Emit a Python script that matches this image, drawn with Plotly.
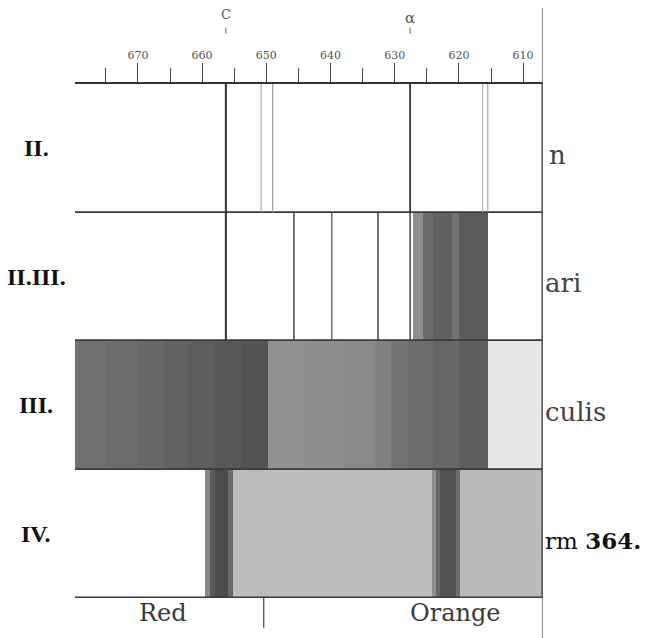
import plotly.graph_objects as go

# ---- data ----
row_labels = ["II.", "II.III.", "III.", "IV."]
right_labels = ["n", "ari", "culis", "rm <b>364.</b>"]
tick_vals = [670, 660, 650, 640, 630, 620, 610]
minor_vals = [675, 665, 655, 645, 635, 625, 615]
x_min, x_max = 679.8, 606.9

# absorption segments: row index, from (nm), to (nm), grey colour
seg_row = [1, 1, 1, 1, 1,
           2, 2, 2, 2, 2, 2, 2, 2, 2, 2, 2, 2, 2, 2, 2, 2,
           3, 3, 3, 3, 3, 3, 3, 3, 3, 3]
seg_from = [627.2, 625.6, 624.0, 621.0, 620.0,
            679.8, 675.0, 670.0, 666.0, 662.0, 658.0, 654.0, 649.8, 644.0, 638.0, 633.0, 630.5, 628.0, 624.0, 620.0, 615.5,
            659.6, 658.8, 658.0, 655.9, 655.2, 624.2, 623.6, 623.0, 620.4, 619.8]
seg_to = [625.6, 624.0, 621.0, 620.0, 615.5,
          675.0, 670.0, 666.0, 662.0, 658.0, 654.0, 649.8, 644.0, 638.0, 633.0, 630.5, 628.0, 624.0, 620.0, 615.5, 606.9,
          658.8, 658.0, 655.9, 655.2, 624.2, 623.6, 623.0, 620.4, 619.8, 606.9]
seg_col = ["#8e8e8e", "#6a6a6a", "#606060", "#727272", "#5a5a5a",
           "#707070", "#6c6c6c", "#686868", "#626262", "#5e5e5e", "#585858", "#535353",
           "#919191", "#8d8d8d", "#898989", "#818181", "#747474", "#6d6d6d", "#676767", "#5e5e5e", "#e6e6e6",
           "#888888", "#5a5a5a", "#4c4c4c", "#6a6a6a", "#bdbdbd", "#8e8e8e", "#666666", "#525252", "#6e6e6e", "#bababa"]

# spectral lines: row index, wavelength, width, colour
line_row = [0, 0, 0, 0, 0, 0, 1, 1, 1, 1, 1]
line_wl = [656.3, 650.8, 649.0, 627.6, 616.3, 615.5, 656.3, 645.7, 639.8, 632.6, 627.6]
line_w = [2, 1, 1, 1.8, 1, 1, 2, 1.5, 1.3, 1.5, 1.5]
line_col = ["#333", "#999", "#888", "#333", "#aaa", "#999", "#333", "#444", "#555", "#444", "#444"]

fraunhofer_names = ["C", "α"]
fraunhofer_wl = [656.3, 627.6]

colour_names = ["Red", "Orange"]
colour_pos = [666.1, 620.6]
colour_divider = 650.4

fig = go.Figure()

# row backgrounds (white)
fig.add_trace(go.Bar(orientation="h", y=list(range(len(row_labels))),
                     base=[x_max] * len(row_labels),
                     x=[x_min - x_max] * len(row_labels),
                     width=1, marker=dict(color="white", line=dict(width=0)),
                     hoverinfo="skip", showlegend=False))
# absorption segments
fig.add_trace(go.Bar(orientation="h", y=seg_row, base=seg_to,
                     x=[f - t for f, t in zip(seg_from, seg_to)],
                     width=1, marker=dict(color=seg_col, line=dict(width=0)),
                     hoverinfo="skip", showlegend=False))
# spectral lines
for r, wl, w, c in zip(line_row, line_wl, line_w, line_col):
    fig.add_trace(go.Scatter(x=[wl, wl], y=[r - 0.5, r + 0.5], mode="lines",
                             line=dict(color=c, width=w), hoverinfo="skip", showlegend=False))
# row outlines
fig.add_trace(go.Bar(orientation="h", y=list(range(len(row_labels))),
                     base=[x_max] * len(row_labels),
                     x=[x_min - x_max] * len(row_labels),
                     width=1, marker=dict(color="rgba(0,0,0,0)", line=dict(width=1.5, color="#3a3a3a")),
                     hoverinfo="skip", showlegend=False))

shapes = []
annotations = []
for name, wl in zip(fraunhofer_names, fraunhofer_wl):
    annotations.append(dict(x=wl, xref="x", y=1.136 if name == "C" else 1.128, yref="paper",
                            yanchor="middle", text=name, showarrow=False,
                            font=dict(family="DejaVu Serif", size=13 if name == "C" else 15, color="#555")))
    shapes.append(dict(type="line", xref="x", yref="paper", x0=wl, x1=wl, y0=1.098, y1=1.11,
                       line=dict(color="#666", width=1)))

for i, lab in enumerate(row_labels):
    annotations.append(dict(x=-0.083, xref="paper", y=i, yref="y", text="<b>" + lab + "</b>",
                            showarrow=False, xanchor="center",
                            font=dict(family="Liberation Serif", size=24, color="#111")))
for i, lab in enumerate(right_labels):
    annotations.append(dict(x=1.0 if i else 1.009, xref="paper", y=i + 0.05, yref="y", text=lab,
                            showarrow=False, xanchor="left",
                            font=dict(family="DejaVu Serif", size=26 if i < 3 else 23,
                                      color="#444" if i < 3 else "#111")))
for name, pos in zip(colour_names, colour_pos):
    annotations.append(dict(x=pos, xref="x", y=-0.03, yref="paper", yanchor="middle", text=name,
                            showarrow=False, font=dict(family="DejaVu Serif", size=24, color="#3a3a3a")))
shapes.append(dict(type="line", xref="x", yref="paper", x0=colour_divider, x1=colour_divider,
                   y0=0, y1=-0.058, line=dict(color="#444", width=1.2)))
shapes.append(dict(type="line", xref="x", yref="paper", x0=x_max, x1=x_max,
                   y0=-0.08, y1=1.17, line=dict(color="#666", width=1.5)))

fig.update_layout(
    width=641, height=630,
    margin=dict(l=67, r=106, t=76, b=40),
    paper_bgcolor="white", plot_bgcolor="white",
    barmode="overlay", bargap=0,
    shapes=shapes, annotations=annotations,
    xaxis=dict(range=[x_min, x_max], side="top", tickvals=tick_vals,
               ticks="outside", ticklen=19, tickwidth=1.3, tickcolor="#444",
               minor=dict(tickvals=minor_vals, ticks="outside", ticklen=14, tickwidth=1.2, tickcolor="#444"),
               showline=True, linecolor="#333", linewidth=1.5, showgrid=False, zeroline=False,
               tickfont=dict(family="DejaVu Serif", size=11, color="#555")),
    yaxis=dict(range=[3.5, -0.5], showticklabels=False, showgrid=False, zeroline=False, ticks=""),
)

fig.write_html("out.html")
